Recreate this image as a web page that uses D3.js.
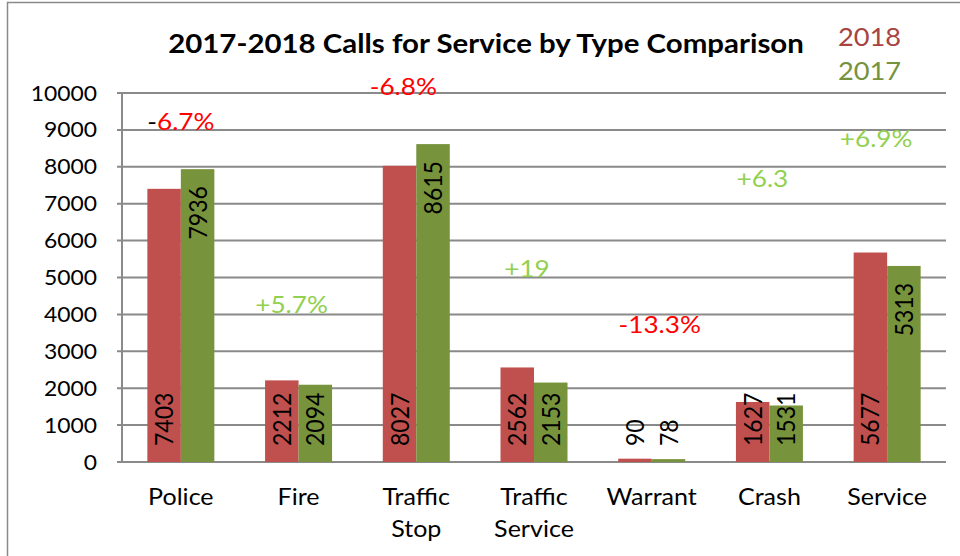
<!DOCTYPE html>
<html>
<head>
<meta charset="utf-8">
<script src="https://cdn.jsdelivr.net/npm/d3@7"></script>
<style>
    body { margin: 0; background: #fff; }
    svg { display: block; }
    text { font-family: Lato, "Open Sans", sans-serif; }
</style>
</head>
<body>
<div id="chart"></div>
<script>
// chart data
const categories = ["Police", "Fire", "Traffic Stop", "Traffic Service", "Warrant", "Crash", "Service"];
const categoryLines = [["Police"], ["Fire"], ["Traffic", "Stop"], ["Traffic", "Service"], ["Warrant"], ["Crash"], ["Service"]];
const series = ["2018", "2017"];
const values2018 = [7403, 2212, 8027, 2562, 90, 1627, 5677];
const values2017 = [7936, 2094, 8615, 2153, 78, 1531, 5313];
const yTicks = [0, 1000, 2000, 3000, 4000, 5000, 6000, 7000, 8000, 9000, 10000];
// change notes, hand placed in the original sheet (value height + small shift)
const changeText = ["-6.7%", "+5.7%", "-6.8%", "+19", "-13.3%", "+6.3", "+6.9%"];
const changeAt = [9000, 4040, 9950, 5010, 3500, 7450, 8540];
const changeShift = [0, -7, -13, -7, 8, -7, -11];

let width = 960;
let height = 556;
let sx = 1.09; // text in the picture is a bit wide
let colors = { "2018": "#c0504d", "2017": "#77933c" };
let legendColors = { "2018": "#a8443f", "2017": "#76923c" };

let svg = d3.select("#chart")
    .append("svg")
    .attr("width", width)
    .attr("height", height);

// outer frame
svg.append("path")
    .attr("d", "M7.5,560 V2.5 H960")
    .attr("fill", "none")
    .attr("stroke", "#8a8a8a")
    .attr("stroke-width", 1.5);

let x0 = d3.scaleBand()
    .domain(categories)
    .range([122, 946]);

let x1 = d3.scaleBand()
    .domain(series)
    .range([0, x0.bandwidth()])
    .paddingOuter(0.757);

let y = d3.scaleLinear()
    .domain([0, 10000])
    .range([462, 93]);

function place(sel, px, py, rot) {
    sel.attr("transform", `translate(${px},${py}) scale(${sx},1)` + (rot ? " rotate(-90)" : ""));
    return sel;
}

// gridlines
svg.append("g")
    .selectAll("line")
    .data(yTicks)
    .enter().append("line")
    .attr("x1", 117)
    .attr("x2", 946)
    .attr("y1", d => y(d))
    .attr("y2", d => y(d))
    .attr("stroke", "#8a8a8a")
    .attr("stroke-width", 2);

svg.append("line")
    .attr("x1", 122).attr("x2", 122)
    .attr("y1", y(10000)).attr("y2", y(0))
    .attr("stroke", "#8a8a8a")
    .attr("stroke-width", 2);

// y labels
svg.append("g")
    .selectAll("text")
    .data(yTicks)
    .enter().append("text")
    .attr("text-anchor", "end")
    .attr("dy", "0.36em")
    .style("font-size", "21px")
    .text(d => d)
    .each(function(d) { place(d3.select(this), 97, y(d)); });

// bars
let rows = categories.map((c, i) => ({ cat: c, vals: [
    { key: "2018", value: values2018[i] },
    { key: "2017", value: values2017[i] }
] }));

let groups = svg.append("g")
    .selectAll("g")
    .data(rows)
    .enter().append("g")
    .attr("transform", d => `translate(${x0(d.cat)},0)`);

groups.selectAll("rect")
    .data(d => d.vals)
    .enter().append("rect")
    .attr("x", d => x1(d.key))
    .attr("y", d => y(d.value))
    .attr("width", x1.bandwidth())
    .attr("height", d => y(0) - y(d.value))
    .attr("fill", d => colors[d.key]);

// value labels, rotated
groups.selectAll("text")
    .data(d => d.vals)
    .enter().append("text")
    .attr("dy", "0.36em")
    .style("font-size", "23px")
    .attr("text-anchor", d => (d.key === "2017" && d.value > 5000) ? "end" : "start")
    .text(d => d.value)
    .each(function(d) {
        let cx = x1(d.key) + x1.bandwidth() / 2;
        let cy = (d.key === "2017" && d.value > 5000) ? y(d.value) + 17 : y(0) - 16;
        place(d3.select(this), cx, cy, true);
    });

// category labels
categoryLines.forEach((lines, i) => {
    let cx = x0(categories[i]) + x0.bandwidth() / 2;
    lines.forEach((t, j) => {
        place(svg.append("text"), cx, 505 + j * 32)
            .attr("text-anchor", "middle")
            .style("font-size", "23px")
            .text(t);
    });
});

// change notes
changeText.forEach((t, i) => {
    let cx = x0(categories[i]) + x0.bandwidth() / 2 + changeShift[i];
    let neg = t[0] === "-";
    let el = place(svg.append("text"), cx, y(changeAt[i]))
        .attr("text-anchor", "middle")
        .style("font-size", "24px")
        .attr("fill", neg ? "#ff0000" : "#92d050");
    if (i === 0) {
        el.append("tspan").attr("fill", "#000").text("-");
        el.append("tspan").text(t.slice(1));
    } else {
        el.text(t);
    }
});

// title
place(svg.append("text"), 486, 53)
    .attr("text-anchor", "middle")
    .style("font-size", "27px")
    .style("font-weight", "bold")
    .text("2017-2018 Calls for Service by Type Comparison");

// legend
series.forEach((s, i) => {
    place(svg.append("text"), 838, 46 + i * 34)
        .style("font-size", "25px")
        .attr("fill", legendColors[s])
        .text(s);
});
</script>
</body>
</html>
